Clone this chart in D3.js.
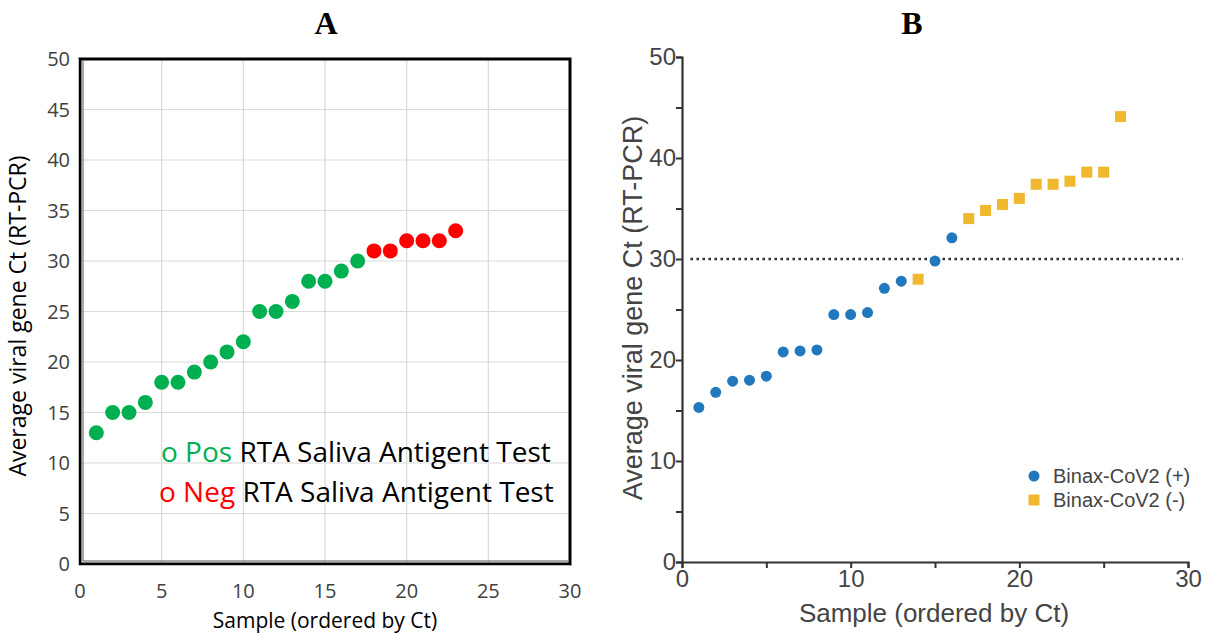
<!DOCTYPE html>
<html>
<head>
<meta charset="utf-8">
<script src="https://cdn.jsdelivr.net/npm/d3@7"></script>
<style>
body { margin: 0; background: #fff; }
svg { display: block; }
</style>
</head>
<body>
<div id="chart"></div>
<script>
// panel A: saliva antigen test
var aSample = [1, 2, 3, 4, 5, 6, 7, 8, 9, 10, 11, 12, 13, 14, 15, 16, 17, 18, 19, 20, 21, 22, 23];
var aCt = [13, 15, 15, 16, 18, 18, 19, 20, 21, 22, 25, 25, 26, 28, 28, 29, 30, 31, 31, 32, 32, 32, 33];
var aResult = ["pos", "pos", "pos", "pos", "pos", "pos", "pos", "pos", "pos", "pos", "pos", "pos", "pos", "pos", "pos", "pos", "pos",
    "neg", "neg", "neg", "neg", "neg", "neg"];
var aTicks = [0, 5, 10, 15, 20, 25, 30, 35, 40, 45, 50];
var aXTicks = [0, 5, 10, 15, 20, 25, 30];

// panel B: Binax-CoV2
var bSample = [1, 2, 3, 4, 5, 6, 7, 8, 9, 10, 11, 12, 13, 14, 15, 16, 17, 18, 19, 20, 21, 22, 23, 24, 25, 26];
var bCt = [15.3, 16.8, 17.9, 18.0, 18.4, 20.8, 20.9, 21.0, 24.5, 24.5, 24.7, 27.1, 27.8, 28.0, 29.8, 32.1,
    34.0, 34.8, 35.4, 36.0, 37.4, 37.4, 37.7, 38.6, 38.6, 44.1];
var bResult = ["pos", "pos", "pos", "pos", "pos", "pos", "pos", "pos", "pos", "pos", "pos", "pos", "pos", "neg", "pos", "pos",
    "neg", "neg", "neg", "neg", "neg", "neg", "neg", "neg", "neg", "neg"];
var bYTicks = [0, 10, 20, 30, 40, 50];
var bXTicks = [0, 10, 20, 30];
var cutoff = 30;

var W = 1207, H = 635;
var svg = d3.select("#chart").append("svg").attr("width", W).attr("height", H);

// titles
svg.append("text").attr("x", 326).attr("y", 34).attr("text-anchor", "middle")
    .style("font-family", "Liberation Serif").style("font-weight", "bold").style("font-size", "32px").text("A");
svg.append("text").attr("x", 912).attr("y", 34).attr("text-anchor", "middle")
    .style("font-family", "Liberation Serif").style("font-weight", "bold").style("font-size", "32px").text("B");

// ---------- panel A ----------
var ax = d3.scaleLinear().domain([0, 30]).range([80, 570]);
var ay = d3.scaleLinear().domain([0, 50]).range([564, 59]);
var fontA = "Open Sans";
var gA = svg.append("g");

gA.selectAll(".hgrid").data(aTicks).enter().append("line").attr("class", "hgrid")
    .attr("x1", ax(0)).attr("x2", ax(30)).attr("y1", function (d) { return ay(d); }).attr("y2", function (d) { return ay(d); })
    .style("stroke", "#d9d9d9").style("stroke-width", 1.2);
gA.selectAll(".vgrid").data(aXTicks).enter().append("line").attr("class", "vgrid")
    .attr("y1", ay(0)).attr("y2", ay(50)).attr("x1", function (d) { return ax(d); }).attr("x2", function (d) { return ax(d); })
    .style("stroke", "#d9d9d9").style("stroke-width", 1.2);

// frame
gA.append("rect").attr("x", ax(0)).attr("y", ay(50)).attr("width", ax(30) - ax(0)).attr("height", ay(0) - ay(50))
    .style("fill", "none").style("stroke", "#000").style("stroke-width", 3);
gA.append("path").attr("d", "M" + (ax(0) - 2) + "," + ay(50) + "V" + (ay(0) + 2) + "H" + ax(30))
    .style("fill", "none").style("stroke", "#fff").style("stroke-width", 1);
gA.append("path").attr("d", "M" + (ax(0) + 3) + "," + (ay(50) + 2) + "V" + (ay(0) - 3) + "H" + (ax(30) - 2))
    .style("fill", "none").style("stroke", "#555").style("stroke-width", 1);

gA.selectAll(".ytick").data(aTicks).enter().append("text").attr("class", "ytick")
    .attr("x", ax(0) - 10).attr("y", function (d) { return ay(d); }).attr("dy", "0.36em").attr("text-anchor", "end")
    .style("font-family", fontA).style("font-size", "20px").style("fill", "#404040").text(function (d) { return d; });
gA.selectAll(".xtick").data(aXTicks).enter().append("text").attr("class", "xtick")
    .attr("x", function (d) { return ax(d); }).attr("y", 598).attr("text-anchor", "middle")
    .style("font-family", fontA).style("font-size", "20px").style("fill", "#404040").text(function (d) { return d; });

gA.append("text").attr("transform", "translate(26," + 316 + ") rotate(-90)").attr("text-anchor", "middle")
    .style("font-family", fontA).style("font-size", "23px").style("fill", "#000").text("Average viral gene Ct (RT-PCR)");
gA.append("text").attr("x", 325).attr("y", 628).attr("text-anchor", "middle")
    .style("font-family", fontA).style("font-size", "21px").style("fill", "#000").text("Sample (ordered by Ct)");

var aPts = aSample.map(function (s, i) { return { s: s, ct: aCt[i], r: aResult[i] }; });
gA.selectAll(".dotA").data(aPts).enter().append("circle").attr("class", "dotA")
    .attr("cx", function (d) { return ax(d.s); }).attr("cy", function (d) { return ay(d.ct); }).attr("r", 7.5)
    .style("fill", function (d) { return d.r == "pos" ? "#00b050" : "#ff0000"; });

var legA = [{ k: "Pos", c: "#00b050", y: 462 }, { k: "Neg", c: "#ff0000", y: 502 }];
legA.forEach(function (l, i) {
    var t = gA.append("text").attr("x", i == 0 ? 161 : 159).attr("y", l.y)
        .style("font-family", fontA).style("font-size", "28px");
    t.append("tspan").style("fill", l.c).text("o " + l.k);
    t.append("tspan").style("fill", "#000").text(" RTA Saliva Antigent Test");
});

// ---------- panel B ----------
var bx = d3.scaleLinear().domain([0, 30]).range([682, 1188]);
var by = d3.scaleLinear().domain([0, 50]).range([562, 57]);
var fontB = "Liberation Sans";
var gB = svg.append("g");

var yAxisB = d3.axisLeft(by).tickValues(d3.range(0, 51, 5)).tickSize(6)
    .tickFormat(function (d) { return bYTicks.indexOf(d) >= 0 ? d : ""; });
var yg = gB.append("g").attr("transform", "translate(" + bx(0) + ",0)").call(yAxisB);
var xAxisB = d3.axisBottom(bx).tickValues(d3.range(0, 31, 5)).tickSize(6)
    .tickFormat(function (d) { return bXTicks.indexOf(d) >= 0 ? d : ""; });
var xg = gB.append("g").attr("transform", "translate(0," + by(0) + ")").call(xAxisB);

[yg, xg].forEach(function (g) {
    g.select(".domain").style("stroke", "#333").style("stroke-width", 2.2);
    g.selectAll(".tick line").style("stroke", "#333").style("stroke-width", 2);
    g.selectAll(".tick text").style("font-family", fontB).style("font-size", "24px").style("fill", "#444");
});
yg.selectAll(".tick text").attr("x", -6);
xg.selectAll(".tick text").attr("y", 8);

gB.append("text").attr("transform", "translate(642," + 308 + ") rotate(-90)").attr("text-anchor", "middle")
    .style("font-family", fontB).style("font-size", "27px").style("fill", "#444").text("Average viral gene Ct (RT-PCR)");
gB.append("text").attr("x", 934).attr("y", 622).attr("text-anchor", "middle")
    .style("font-family", fontB).style("font-size", "26px").style("fill", "#444").text("Sample (ordered by Ct)");

// Ct 30 cutoff
gB.append("line").attr("x1", bx(0.5)).attr("x2", bx(29.7)).attr("y1", by(cutoff)).attr("y2", by(cutoff))
    .style("stroke", "#333").style("stroke-width", 2.6).style("stroke-dasharray", "2.6,3.4");

var bPts = bSample.map(function (s, i) { return { s: s, ct: bCt[i], r: bResult[i] }; });
gB.selectAll(".dotB").data(bPts.filter(function (d) { return d.r == "pos"; })).enter().append("circle").attr("class", "dotB")
    .attr("cx", function (d) { return bx(d.s); }).attr("cy", function (d) { return by(d.ct); }).attr("r", 5.5)
    .style("fill", "#2178bd");
gB.selectAll(".sqB").data(bPts.filter(function (d) { return d.r == "neg"; })).enter().append("rect").attr("class", "sqB")
    .attr("x", function (d) { return bx(d.s) - 5.5; }).attr("y", function (d) { return by(d.ct) - 5.5; })
    .attr("width", 11).attr("height", 11).style("fill", "#efb82e");

gB.append("circle").attr("cx", 1034).attr("cy", 476).attr("r", 5.5).style("fill", "#2178bd");
gB.append("rect").attr("x", 1028.5).attr("y", 494.5).attr("width", 11).attr("height", 11).style("fill", "#efb82e");
gB.append("text").attr("x", 1053).attr("y", 483).style("font-family", fontB).style("font-size", "20px").style("fill", "#444").text("Binax-CoV2 (+)");
gB.append("text").attr("x", 1053).attr("y", 507).style("font-family", fontB).style("font-size", "20px").style("fill", "#444").text("Binax-CoV2 (-)");
</script>
</body>
</html>
